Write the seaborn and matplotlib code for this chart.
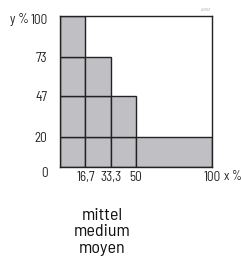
import matplotlib
matplotlib.use("Agg")
import matplotlib.pyplot as plt
import matplotlib.transforms as mtransforms
import seaborn as sns

# step boundaries (x %) and bar heights (y %)
x_left = [0, 16.7, 33.3, 50]
x_right = [16.7, 33.3, 50, 100]
heights = [100, 73, 47, 20]
y_levels = [0, 20, 47, 73, 100]
x_ticks = [16.7, 33.3, 50, 100]
x_ticklabels = ["16,7", "33,3", "50", "100"]
y_ticks = [0, 20, 47, 73, 100]
y_ticklabels = ["0", "20", "47", "73", "100"]
caption = ["mittel", "medium", "moyen"]

sns.set_theme(style="white")
plt.rcParams["font.family"] = ["Barlow Semi Condensed", "DejaVu Sans"]

fig = plt.figure(figsize=(2.41, 2.62), dpi=100)
ax = fig.add_axes([60 / 241, 1 - 167 / 262, 152 / 241, 151 / 262])

gray = "#c0c0c4"
ink = "#222222"
for xl, xr, h in zip(x_left, x_right, heights):
    # split each column into cells at the level lines
    lows = [v for v in y_levels if v < h]
    highs = [v for v in y_levels if 0 < v <= h]
    for lo, hi in zip(lows, highs):
        ax.bar(xl, hi - lo, width=xr - xl, bottom=lo, align="edge",
               color=gray, edgecolor=ink, linewidth=1.0)

ax.set_xlim(0, 100)
ax.set_ylim(0, 100)
for s in ax.spines.values():
    s.set_color(ink)
    s.set_linewidth(1.0)

ax.set_xticks(x_ticks)
ax.set_xticklabels(x_ticklabels, fontsize=9.5, color=ink)
ax.set_yticks(y_ticks)
ax.set_yticklabels(y_ticklabels, fontsize=9.5, color=ink)
ax.tick_params(length=0, pad=3)
ax.tick_params(axis="y", pad=9)

# the 0 and 100 labels sit a bit lower in the original
ylabs = ax.get_yticklabels()
ylabs[0].set_transform(ylabs[0].get_transform() +
                       mtransforms.ScaledTranslation(0, -5 / 100, fig.dpi_scale_trans))
ylabs[-1].set_transform(ylabs[-1].get_transform() +
                        mtransforms.ScaledTranslation(0, -3 / 100, fig.dpi_scale_trans))

fig.text(10 / 241, 1 - 19 / 262, "y %", fontsize=9.5, color=ink, va="center")
fig.text(224 / 241, 1 - 176 / 262, "x %", fontsize=9, color=ink, va="center")
fig.text(211 / 241, 1 - 11 / 262, "c00947", fontsize=2.5, color="#999999", ha="right")

for i, word in enumerate(caption):
    fig.text(102 / 241, 1 - (215 + 16.5 * i) / 262, word, fontsize=13,
             color="#111111", ha="center", va="center")

fig.savefig("out.png", dpi=100)
